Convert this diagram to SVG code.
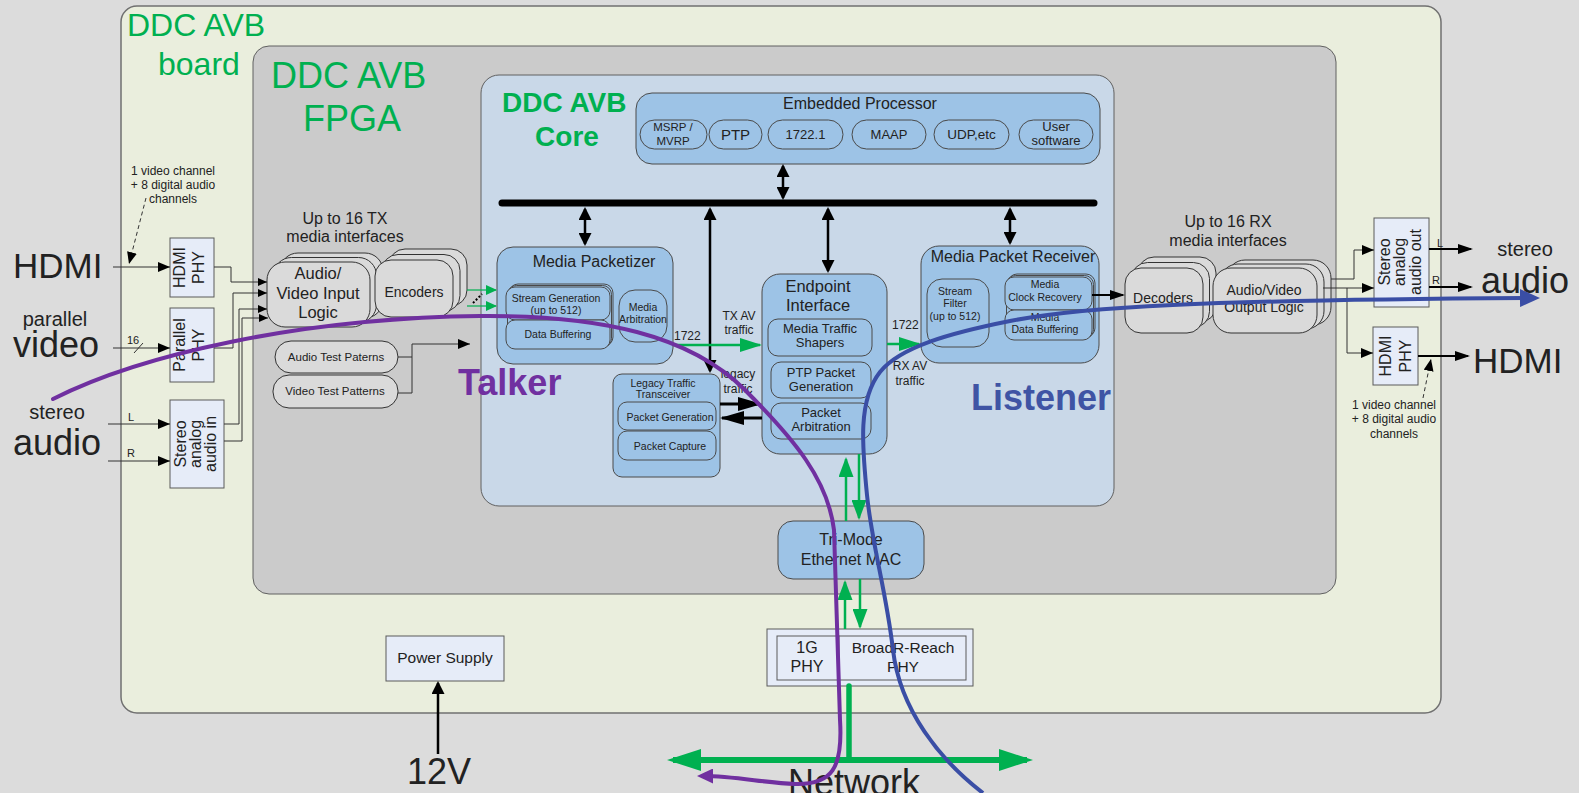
<svg xmlns="http://www.w3.org/2000/svg" width="1579" height="793" viewBox="0 0 1579 793">
<defs>
<style>
text{font-family:"Liberation Sans",Arial,sans-serif;fill:#222}
.m{text-anchor:middle}
.gr{fill:#00b050}
.blue{fill:#9dc3e6;stroke:#4a4a4a;stroke-width:1}
.lt{fill:#e6ecf8;stroke:#5a5a5a;stroke-width:1}
.gy{fill:#dadada;stroke:#333;stroke-width:1}
.ln{fill:none;stroke:#333;stroke-width:1}
.k{fill:none;stroke:#000;stroke-width:2.5}
.k2{fill:none;stroke:#000;stroke-width:2}
.g{fill:none;stroke:#00b050;stroke-width:2.5}
</style>
<marker id="ah-k" markerUnits="userSpaceOnUse" markerWidth="12" markerHeight="10" refX="12" refY="5" orient="auto-start-reverse"><path d="M0,0 L12,5 L0,10 z" fill="#000"/></marker>
<marker id="ah-ks" markerUnits="userSpaceOnUse" markerWidth="9" markerHeight="8" refX="9" refY="4" orient="auto-start-reverse"><path d="M0,0 L9,4 L0,8 z" fill="#000"/></marker>
<marker id="ah-bus" markerUnits="userSpaceOnUse" markerWidth="13" markerHeight="13" refX="11" refY="6.5" orient="auto-start-reverse"><path d="M0,0 L13,6.5 L0,13 z" fill="#000"/></marker>
<marker id="ah-out" markerUnits="userSpaceOnUse" markerWidth="15" markerHeight="10" refX="13" refY="5" orient="auto-start-reverse"><path d="M0,0 L15,5 L0,10 z" fill="#000"/></marker>
<marker id="ah-leg" markerUnits="userSpaceOnUse" markerWidth="24" markerHeight="14" refX="22" refY="7" orient="auto-start-reverse"><path d="M0,0 L24,7 L0,14 z" fill="#000"/></marker>
<marker id="ah-gs" markerUnits="userSpaceOnUse" markerWidth="11" markerHeight="10" refX="10" refY="5" orient="auto-start-reverse"><path d="M0,0 L11,5 L0,10 z" fill="#00b050"/></marker>
<marker id="ah-g" markerUnits="userSpaceOnUse" markerWidth="22" markerHeight="14" refX="20" refY="7" orient="auto-start-reverse"><path d="M0,0 L22,7 L0,14 z" fill="#00b050"/></marker>
<marker id="ah-gv" markerUnits="userSpaceOnUse" markerWidth="20" markerHeight="15" refX="18" refY="7.5" orient="auto-start-reverse"><path d="M0,0 L20,7.5 L0,15 z" fill="#00b050"/></marker>
<marker id="ah-net" markerUnits="userSpaceOnUse" markerWidth="34" markerHeight="22" refX="28" refY="11" orient="auto-start-reverse"><path d="M0,0 L34,11 L0,22 z" fill="#00b050"/></marker>
<marker id="ah-p" markerUnits="userSpaceOnUse" markerWidth="16" markerHeight="15" refX="10" refY="7.5" orient="auto-start-reverse"><path d="M0,0 L16,7.5 L0,15 z" fill="#7030a0"/></marker>
<marker id="ah-bl" markerUnits="userSpaceOnUse" markerWidth="20" markerHeight="18" refX="12" refY="9" orient="auto-start-reverse"><path d="M0,0 L20,9 L0,18 z" fill="#3a4ea5"/></marker>
</defs>
<rect width="1579" height="793" fill="#dcdcdc"/>

<g id="board">
<rect x="121" y="6" width="1320" height="707" rx="16" fill="#eaeedd" stroke="#707070" stroke-width="1.5"/>
<text x="127" y="36" font-size="32" class="gr">DDC AVB</text>
<text x="158" y="75" font-size="32" class="gr">board</text>
</g>
<g id="fpga">
<rect x="253" y="46" width="1083" height="548" rx="16" fill="#cbcbcb" stroke="#606060"/>
<text x="271" y="88" font-size="36" class="gr">DDC AVB</text>
<text x="303" y="131" font-size="36" class="gr">FPGA</text>
</g>
<g id="core">
<rect x="481" y="75" width="633" height="431" rx="18" fill="#c9d8e8" stroke="#606060"/>
<text x="502" y="112" font-size="28" font-weight="bold" class="gr">DDC AVB</text>
<text x="567" y="146" font-size="28" font-weight="bold" class="gr m">Core</text>
<text x="458" y="395" font-size="36" font-weight="bold" style="fill:#7030a0">Talker</text>
<text x="971" y="410" font-size="36" font-weight="bold" style="fill:#3f54a4">Listener</text>
</g>

<g id="embedded-processor">
<rect x="636" y="93" width="464" height="71" rx="16" class="blue"/>
<text x="860" y="109" font-size="16" class="m">Embedded Processor</text>
<rect x="640" y="120" width="67" height="29" rx="14.5" class="blue"/>
<text x="673" y="131" font-size="11.5" class="m">MSRP /</text>
<text x="673" y="145" font-size="11.5" class="m">MVRP</text>
<rect x="709" y="120" width="53" height="29" rx="14.5" class="blue"/>
<text x="735.5" y="140" font-size="15" class="m">PTP</text>
<rect x="768" y="120" width="75" height="29" rx="14.5" class="blue"/>
<text x="805.5" y="139" font-size="13" class="m">1722.1</text>
<rect x="852" y="120" width="74" height="29" rx="14.5" class="blue"/>
<text x="889" y="139" font-size="13" class="m">MAAP</text>
<rect x="934" y="120" width="75" height="29" rx="14.5" class="blue"/>
<text x="971.5" y="139" font-size="13.5" class="m">UDP,etc</text>
<rect x="1019" y="120" width="74" height="29" rx="14.5" class="blue"/>
<text x="1056" y="131" font-size="13" class="m">User</text>
<text x="1056" y="145" font-size="13" class="m">software</text>
</g>

<g id="media-packetizer">
<rect x="497" y="247" width="176" height="117" rx="16" class="blue"/>
<text x="594" y="267" font-size="16" class="m">Media Packetizer</text>
<rect x="509" y="284" width="104" height="62" rx="9" class="blue"/>
<rect x="507.5" y="285.5" width="104" height="62" rx="9" class="blue"/>
<rect x="506" y="287" width="104" height="33" rx="9" class="blue"/>
<rect x="506" y="320" width="104" height="29" rx="9" class="blue"/>
<text x="556" y="302" font-size="10.5" class="m">Stream Generation</text>
<text x="556" y="314" font-size="10.5" class="m">(up to 512)</text>
<text x="558" y="338" font-size="10.5" class="m">Data Buffering</text>
<rect x="619" y="290" width="48" height="52" rx="16" class="blue"/>
<text x="643" y="311" font-size="10.5" class="m">Media</text>
<text x="643" y="323" font-size="10.5" class="m">Arbitration</text>
</g>

<g id="legacy-traffic-transceiver">
<rect x="613" y="374" width="107" height="103" rx="9" class="blue"/>
<text x="663" y="387" font-size="10.5" class="m">Legacy Traffic</text>
<text x="663" y="398" font-size="10.5" class="m">Transceiver</text>
<rect x="618" y="402" width="98" height="28" rx="9" class="blue"/>
<text x="670" y="421" font-size="10.5" class="m">Packet Generation</text>
<rect x="618" y="431" width="98" height="29" rx="9" class="blue"/>
<text x="670" y="450" font-size="10.5" class="m">Packet Capture</text>
</g>

<g id="endpoint-interface">
<rect x="762" y="274" width="125" height="180" rx="18" class="blue"/>
<text x="818" y="292" font-size="16.5" class="m">Endpoint</text>
<text x="818" y="311" font-size="16.5" class="m">Interface</text>
<rect x="768" y="319" width="104" height="37" rx="10" class="blue"/>
<text x="820" y="333" font-size="13" class="m">Media Traffic</text>
<text x="820" y="347" font-size="13" class="m">Shapers</text>
<rect x="771" y="362" width="100" height="36" rx="10" class="blue"/>
<text x="821" y="377" font-size="13" class="m">PTP Packet</text>
<text x="821" y="391" font-size="13" class="m">Generation</text>
<rect x="771" y="403" width="100" height="36" rx="10" class="blue"/>
<text x="821" y="417" font-size="13" class="m">Packet</text>
<text x="821" y="431" font-size="13" class="m">Arbitration</text>
</g>

<g id="media-packet-receiver">
<rect x="921" y="246" width="178" height="117" rx="18" class="blue"/>
<text x="1013" y="262" font-size="16" class="m">Media Packet Receiver</text>
<rect x="927" y="279" width="62" height="68" rx="15" class="blue"/>
<text x="955" y="295" font-size="10.5" class="m">Stream</text>
<text x="955" y="307" font-size="10.5" class="m">Filter</text>
<text x="955" y="320" font-size="10.5" class="m">(up to 512)</text>
<rect x="1008" y="274" width="87" height="63" rx="9" class="blue"/>
<rect x="1006.5" y="275.5" width="87" height="63" rx="9" class="blue"/>
<rect x="1005" y="277" width="87" height="33" rx="9" class="blue"/>
<rect x="1005" y="310" width="87" height="30" rx="9" class="blue"/>
<text x="1045" y="288" font-size="10.5" class="m">Media</text>
<text x="1045" y="301" font-size="10.5" class="m">Clock Recovery</text>
<text x="1045" y="321" font-size="10.5" class="m">Media</text>
<text x="1045" y="333" font-size="10.5" class="m">Data Buffering</text>
</g>

<g id="ethernet-mac">
<rect x="778" y="521" width="146" height="58" rx="15" class="blue"/>
<text x="851" y="545" font-size="16" class="m">Tri-Mode</text>
<text x="851" y="565" font-size="16" class="m">Ethernet MAC</text>
</g>

<g id="phy">
<rect x="767" y="629" width="206" height="57" class="lt"/>
<rect x="777" y="636" width="62" height="44" class="lt"/>
<rect x="839" y="636" width="127" height="44" class="lt"/>
<text x="807" y="653" font-size="16" class="m">1G</text>
<text x="807" y="672" font-size="16" class="m">PHY</text>
<text x="903" y="653" font-size="15.5" class="m">BroadR-Reach</text>
<text x="903" y="672" font-size="15.5" class="m">PHY</text>
</g>

<g id="power-supply">
<rect x="386" y="636" width="118" height="45" class="lt"/>
<text x="445" y="663" font-size="15.5" class="m">Power Supply</text>
</g>

<g id="tx-labels">
<text x="345" y="224" font-size="16" class="m">Up to 16 TX</text>
<text x="345" y="242" font-size="16" class="m">media interfaces</text>
</g>
<g id="av-input-logic">
<rect x="280" y="253" width="103" height="65" rx="18" class="gy"/>
<rect x="273.5" y="257.5" width="103" height="65" rx="18" class="gy"/>
<rect x="267" y="262" width="103" height="65" rx="18" class="gy"/>
<text x="318" y="279" font-size="16.5" class="m">Audio/</text>
<text x="318" y="299" font-size="16.5" class="m">Video Input</text>
<text x="318" y="318" font-size="16.5" class="m">Logic</text>
</g>
<g id="encoders">
<rect x="389" y="249" width="78" height="57" rx="16" class="gy"/>
<rect x="382" y="254.5" width="78" height="57" rx="16" class="gy"/>
<rect x="375" y="260" width="78" height="57" rx="16" class="gy"/>
<text x="414" y="297" font-size="14" class="m">Encoders</text>
</g>
<g id="audio-test">
<rect x="275" y="341" width="123" height="32" rx="16" class="gy"/>
<text x="336" y="361" font-size="11.5" class="m">Audio Test Paterns</text>
</g>
<g id="video-test">
<rect x="273" y="375" width="125" height="33" rx="16" class="gy"/>
<text x="335" y="395" font-size="11.5" class="m">Video Test Patterns</text>
</g>

<g id="rx-labels">
<text x="1228" y="227" font-size="16" class="m">Up to 16 RX</text>
<text x="1228" y="246" font-size="16" class="m">media interfaces</text>
</g>
<g id="decoders">
<rect x="1138" y="257" width="78" height="65" rx="16" class="gy"/>
<rect x="1131.5" y="262.5" width="78" height="65" rx="16" class="gy"/>
<rect x="1125" y="268" width="78" height="65" rx="16" class="gy"/>
<text x="1163" y="303" font-size="14" class="m">Decoders</text>
</g>
<g id="av-output-logic">
<rect x="1227" y="260" width="104" height="65" rx="18" class="gy"/>
<rect x="1220" y="264" width="104" height="65" rx="18" class="gy"/>
<rect x="1213" y="268" width="104" height="65" rx="18" class="gy"/>
<text x="1264" y="295" font-size="14" class="m">Audio/Video</text>
<text x="1264" y="312" font-size="14" class="m">Output Logic</text>
</g>

<g id="hdmi-phy-in">
<rect x="170" y="238" width="44" height="59" class="lt"/>
<text transform="translate(185,267.5) rotate(-90)" font-size="16" class="m">HDMI</text>
<text transform="translate(204,267.5) rotate(-90)" font-size="16" class="m">PHY</text>
</g>
<g id="parallel-phy">
<rect x="170" y="308" width="44" height="74" class="lt"/>
<text transform="translate(185,345) rotate(-90)" font-size="16" class="m">Parallel</text>
<text transform="translate(204,345) rotate(-90)" font-size="16" class="m">PHY</text>
</g>
<g id="stereo-in">
<rect x="170" y="400" width="54" height="88" class="lt"/>
<text transform="translate(186,444) rotate(-90)" font-size="16" class="m">Stereo</text>
<text transform="translate(201,444) rotate(-90)" font-size="16" class="m">analog</text>
<text transform="translate(216,444) rotate(-90)" font-size="16" class="m">audio in</text>
</g>
<g id="stereo-out">
<rect x="1374" y="218" width="55" height="89" class="lt"/>
<text transform="translate(1390,262) rotate(-90)" font-size="16" class="m">Stereo</text>
<text transform="translate(1405,262) rotate(-90)" font-size="16" class="m">analog</text>
<text transform="translate(1421,262) rotate(-90)" font-size="16" class="m">audio out</text>
</g>
<g id="hdmi-phy-out">
<rect x="1373" y="327" width="45" height="58" class="lt"/>
<text transform="translate(1391,356) rotate(-90)" font-size="16" class="m">HDMI</text>
<text transform="translate(1411,356) rotate(-90)" font-size="16" class="m">PHY</text>
</g>

<g id="external-labels">
<text x="173" y="175" font-size="12" class="m">1 video channel</text>
<text x="173" y="189" font-size="12" class="m">+ 8 digital audio</text>
<text x="173" y="203" font-size="12" class="m">channels</text>
<text x="13" y="278" font-size="35">HDMI</text>
<text x="55" y="326" font-size="20" class="m">parallel</text>
<text x="13" y="357" font-size="36">video</text>
<text x="127" y="344" font-size="11">16</text>
<text x="57" y="419" font-size="20" class="m">stereo</text>
<text x="13" y="455" font-size="36">audio</text>
<text x="128" y="421" font-size="11">L</text>
<text x="127" y="457" font-size="11">R</text>
<text x="1437" y="247" font-size="11">L</text>
<text x="1432" y="284" font-size="11">R</text>
<text x="1525" y="256" font-size="20" class="m">stereo</text>
<text x="1481" y="293" font-size="36">audio</text>
<text x="1473" y="373" font-size="35">HDMI</text>
<text x="1394" y="409" font-size="12" class="m">1 video channel</text>
<text x="1394" y="423" font-size="12" class="m">+ 8 digital audio</text>
<text x="1394" y="438" font-size="12" class="m">channels</text>
<text x="407" y="784" font-size="36">12V</text>
<text x="788" y="795" font-size="36">Network</text>
<text x="739" y="320" font-size="12" class="m">TX AV</text>
<text x="739" y="334" font-size="12" class="m">traffic</text>
<text x="674" y="340" font-size="12">1722</text>
<text x="738" y="378" font-size="12" class="m">legacy</text>
<text x="738" y="393" font-size="12" class="m">traffic</text>
<text x="892" y="329" font-size="12">1722</text>
<text x="910" y="370" font-size="12" class="m">RX AV</text>
<text x="910" y="385" font-size="12" class="m">traffic</text>
</g>

<g id="connectors">
<line x1="502" y1="203" x2="1094" y2="203" stroke="#000" stroke-width="7" stroke-linecap="round"/>
<line x1="783" y1="166" x2="783" y2="198" class="k" marker-start="url(#ah-bus)" marker-end="url(#ah-bus)"/>
<line x1="585" y1="209" x2="585" y2="244" class="k" marker-start="url(#ah-bus)" marker-end="url(#ah-bus)"/>
<line x1="710" y1="209" x2="710" y2="371" class="k" marker-start="url(#ah-bus)" marker-end="url(#ah-bus)"/>
<line x1="828" y1="209" x2="828" y2="271" class="k" marker-start="url(#ah-bus)" marker-end="url(#ah-bus)"/>
<line x1="1010" y1="209" x2="1010" y2="243" class="k" marker-start="url(#ah-bus)" marker-end="url(#ah-bus)"/>

<line x1="113" y1="267" x2="170" y2="267" class="ln" marker-end="url(#ah-k)"/>
<line x1="113" y1="348" x2="170" y2="348" class="ln" marker-end="url(#ah-k)"/>
<line x1="134" y1="353" x2="143" y2="343" class="ln"/>
<line x1="108" y1="424" x2="170" y2="424" class="ln" marker-end="url(#ah-k)"/>
<line x1="108" y1="461" x2="170" y2="461" class="ln" marker-end="url(#ah-k)"/>
<line x1="146" y1="198" x2="129" y2="264" class="ln" stroke-dasharray="4,3" marker-end="url(#ah-k)"/>
<polyline points="214,267 231,267 231,282 267,282" class="ln" marker-end="url(#ah-ks)"/>
<polyline points="214,348 233,348 233,293 267,293" class="ln" marker-end="url(#ah-ks)"/>
<polyline points="224,424 239,424 239,309 267,309" class="ln" marker-end="url(#ah-ks)"/>
<polyline points="224,441 242,441 242,318 268,318" class="ln" marker-end="url(#ah-ks)"/>
<polyline points="398,357 412,357" class="ln"/>
<polyline points="398,393 412,393 412,344 470,344" class="ln" marker-end="url(#ah-k)"/>

<line x1="467" y1="290" x2="496" y2="290" stroke="#00b050" stroke-width="1.2" marker-end="url(#ah-gs)"/>
<line x1="467" y1="306" x2="496" y2="306" stroke="#00b050" stroke-width="1.2" marker-end="url(#ah-gs)"/>
<line x1="473" y1="303" x2="482" y2="294" stroke="#000" stroke-width="2" stroke-dasharray="2,2"/>

<line x1="673" y1="345" x2="760" y2="345" class="g" marker-end="url(#ah-g)"/>
<line x1="887" y1="344" x2="919" y2="344" class="g" marker-end="url(#ah-g)"/>
<line x1="720" y1="404" x2="760" y2="404" stroke="#000" stroke-width="3" marker-end="url(#ah-leg)"/>
<line x1="762" y1="418" x2="722" y2="418" stroke="#000" stroke-width="3" marker-end="url(#ah-leg)"/>

<line x1="846" y1="521" x2="846" y2="459" class="g" marker-end="url(#ah-gv)"/>
<line x1="859" y1="454" x2="859" y2="518" class="g" marker-end="url(#ah-gv)"/>
<line x1="845" y1="629" x2="845" y2="582" class="g" marker-end="url(#ah-gv)"/>
<line x1="860" y1="579" x2="860" y2="627" class="g" marker-end="url(#ah-gv)"/>
<line x1="849" y1="686" x2="849" y2="760" stroke="#00b050" stroke-width="5.5" stroke-linecap="round"/>
<line x1="673" y1="760" x2="1027" y2="760" stroke="#00b050" stroke-width="6" marker-start="url(#ah-net)" marker-end="url(#ah-net)"/>

<line x1="438" y1="754" x2="438" y2="683" class="k" marker-end="url(#ah-bus)"/>

<line x1="1092" y1="295" x2="1123" y2="295" class="k2" marker-end="url(#ah-out)"/>
<polyline points="1331,279 1354,279 1354,250 1374,250" class="ln" marker-end="url(#ah-k)"/>
<line x1="1323" y1="288" x2="1374" y2="288" class="ln" marker-end="url(#ah-k)"/>
<polyline points="1347,288 1347,353 1373,353" class="ln" marker-end="url(#ah-k)"/>
<line x1="1429" y1="249" x2="1471" y2="249" class="k2" marker-end="url(#ah-out)"/>
<line x1="1429" y1="287" x2="1471" y2="287" class="k2" marker-end="url(#ah-out)"/>
<line x1="1418" y1="356" x2="1468" y2="356" class="k2" marker-end="url(#ah-out)"/>
<line x1="1423" y1="398" x2="1431" y2="359" class="ln" stroke-dasharray="4,3" marker-end="url(#ah-k)"/>
</g>

<g id="flows">
<path d="M53,399 C140,355 300,318 480,316 C600,315 690,335 745,390 C795,440 828,480 834,530 L840,720 C843,768 832,785 795,784 C765,783 735,776 703,776" fill="none" stroke="#7030a0" stroke-width="4" stroke-linecap="round" marker-end="url(#ah-p)"/>
<path d="M983,793 C940,760 900,710 893,650 C886,590 872,545 867,495 C862,445 858,400 880,372 C900,347 950,333 1010,321 C1080,307 1200,300 1532,298" fill="none" stroke="#3a4ea5" stroke-width="4" marker-end="url(#ah-bl)"/>
</g>
</svg>
